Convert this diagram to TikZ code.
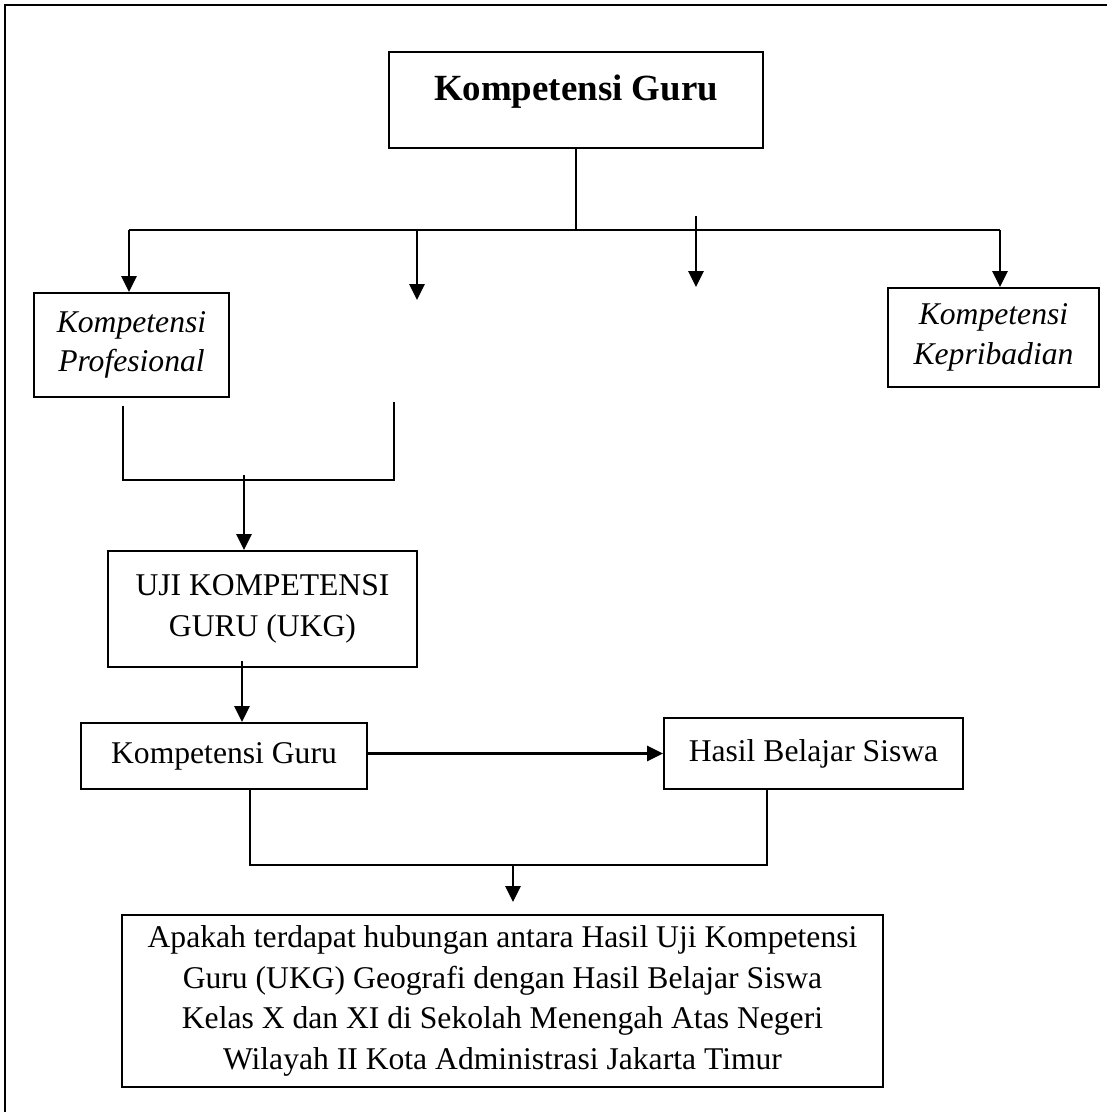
\documentclass[tikz,border=0pt]{standalone}
\usepackage{fontspec}
\setmainfont{Liberation Serif}
\usetikzlibrary{arrows.meta}
\tikzset{
  kotak/.style={draw, line width=1.1pt, inner sep=0pt, align=center, font=\fontsize{18}{23}\selectfont},
  miring/.style={kotak, font=\fontsize{18}{22.5}\selectfont\itshape},
  panah/.style={-{Triangle[length=0.32cm,width=0.3cm]}, line width=1.5pt},
  garis/.style={line width=0.8pt}
}
\begin{document}
\begin{tikzpicture}
    \useasboundingbox (0,0) rectangle (22.14,-22.24);
    % Bingkai
    \draw[line width=1.3pt] (0.1,-22.24) -- (0.1,-0.1) -- (22.14,-0.1);

    % Kompetensi guru
    \node[kotak, minimum width=7.48cm, minimum height=1.92cm, text height=0.5cm, text depth=0.5cm,
          font=\fontsize{21}{25}\selectfont\bfseries] (judul) at (11.52,-2.0) {Kompetensi Guru};
    \node[miring, minimum width=3.9cm, minimum height=2.08cm] (prof) at (2.63,-6.9) {Kompetensi\\Profesional};
    \node[miring, minimum width=4.22cm, minimum height=1.98cm] (kep) at (19.87,-6.75) {Kompetensi\\Kepribadian};

    \coordinate (cabL) at (2.58,-4.6);
    \coordinate (cabR) at (20.0,-4.6);
    \coordinate (ujungB) at (8.34,-6.0);
    \coordinate (pangkalC) at (13.92,-4.32);
    \coordinate (ujungC) at (13.92,-5.74);
    \draw[garis] (judul.south) -- (judul.south |- cabL);
    \draw[line width=1.4pt] (cabL) -- (cabR);
    \draw[panah] (cabL) -- (cabL |- prof.north);
    \draw[panah] (ujungB |- cabL) -- (ujungB);
    \draw[panah] (pangkalC) -- (ujungC);
    \draw[panah] (cabR) -- (cabR |- kep.north);

    % UKG
    \node[kotak, minimum width=6.18cm, minimum height=2.32cm] (ukg) at (5.25,-12.18) {UJI KOMPETENSI\\GURU (UKG)};
    \coordinate (gabL) at (2.46,-9.6);
    \coordinate (gabR) at (7.88,-9.6);
    \coordinate (gabAtas) at (7.88,-8.04);
    \coordinate (gabM) at (4.88,-9.6);
    \draw[garis, line width=1pt] ([yshift=-0.16cm]prof.south -| gabL) -- (gabL) -- (gabR) -- (gabAtas);
    \draw[panah] ([yshift=0.1cm]gabM) -- (gabM |- ukg.north);

    % Hubungan
    \node[kotak, minimum width=5.72cm, minimum height=1.32cm] (kg) at (4.48,-15.12) {Kompetensi Guru};
    \node[kotak, minimum width=5.98cm, minimum height=1.42cm] (hasil) at (16.27,-15.07) {Hasil Belajar Siswa};
    \draw[panah] ([xshift=-0.41cm,yshift=0.14cm]ukg.south) -- ([xshift=-0.41cm]ukg.south |- kg.north);
    \draw[panah] (kg.east |- hasil.west) -- (hasil.west);

    \coordinate (satuL) at (5.0,-17.3);
    \coordinate (satuR) at (15.34,-17.3);
    \coordinate (satuM) at (10.26,-17.3);
    \coordinate (ujungQ) at (10.26,-18.04);
    \draw[garis] (kg.south -| satuL) -- (satuL) -- (satuR) -- (hasil.south -| satuR);
    \draw[panah] (satuM) -- (ujungQ);

    % Rumusan masalah
    \node[kotak, minimum width=15.22cm, minimum height=3.44cm] (rumusan) at (10.05,-20.02)
      {Apakah terdapat hubungan antara Hasil Uji Kompetensi\\Guru (UKG) Geografi dengan Hasil Belajar Siswa\\Kelas X dan XI di Sekolah Menengah Atas Negeri\\Wilayah II Kota Administrasi Jakarta Timur};
\end{tikzpicture}
\end{document}
